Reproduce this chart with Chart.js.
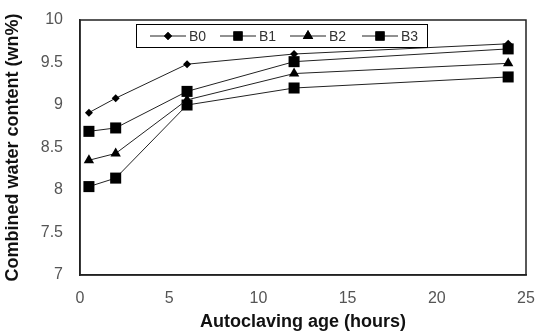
<!DOCTYPE html>
<html><head><meta charset="utf-8">
<script src="https://cdn.jsdelivr.net/npm/chart.js@4/dist/chart.umd.min.js"></script>
<style>html,body{margin:0;padding:0;background:#fff}#wrap{width:536px;height:333px}</style>
</head><body><div id="wrap"><canvas id="c" width="536" height="333"></canvas></div>
<script>
const hours = [0.5, 2, 6, 12, 24];
const B0 = [8.91, 9.08, 9.48, 9.60, 9.72];
const B1 = [8.69, 8.73, 9.16, 9.51, 9.66];
const B2 = [8.35, 8.43, 9.06, 9.37, 9.49];
const B3 = [8.04, 8.14, 9.00, 9.20, 9.33];
const seriesNames = ['B0', 'B1', 'B2', 'B3'];
const xTicks = [0, 5, 10, 15, 20, 25];
const yTicks = [7, 7.5, 8, 8.5, 9, 9.5, 10];

const styles = [
  {pointStyle: 'rectRot', r: 4},
  {pointStyle: 'rect', r: 7.8},
  {pointStyle: 'triangle', r: 6},
  {pointStyle: 'rect', r: 7.8}
];
const allData = [B0, B1, B2, B3];
const datasets = allData.map((arr, i) => ({
  label: seriesNames[i],
  data: hours.map((h, j) => ({x: h, y: arr[j]})),
  borderColor: '#222',
  borderWidth: 1,
  backgroundColor: '#000',
  pointBackgroundColor: '#000',
  pointBorderColor: '#000',
  pointBorderWidth: 0,
  pointStyle: styles[i].pointStyle,
  pointRadius: styles[i].r,
  showLine: true,
  tension: 0
}));

const legendPlugin = {
  id: 'boxLegend',
  afterDatasetsDraw(chart) {
    const ctx = chart.ctx;
    const x0 = 136, y0 = 24, w = 291, h = 23;
    ctx.save();
    ctx.fillStyle = '#fff';
    ctx.fillRect(x0, y0, w, h);
    ctx.strokeStyle = '#000';
    ctx.lineWidth = 1;
    ctx.strokeRect(x0 + 0.5, y0 + 0.5, w, h);
    ctx.font = '14px "Liberation Sans", Arial, sans-serif';
    ctx.textBaseline = 'middle';
    const cy = y0 + h / 2 + 0.5;
    const starts = [150, 220, 290, 362];
    chart.data.datasets.forEach((ds, i) => {
      const sx = starts[i];
      ctx.strokeStyle = '#222';
      ctx.beginPath();
      ctx.moveTo(sx, cy);
      ctx.lineTo(sx + 36, cy);
      ctx.stroke();
      ctx.fillStyle = '#000';
      Chart.helpers.drawPoint(ctx, {pointStyle: ds.pointStyle, radius: Math.min(ds.pointRadius, 6.5), borderWidth: 0}, sx + 18, cy);
      ctx.fill();
      ctx.fillStyle = '#333';
      ctx.fillText(ds.label, sx + 39, cy + 1);
    });
    ctx.restore();
  }
};

const framePlugin = {
  id: 'frame',
  beforeDatasetsDraw(chart) {
    const a = chart.chartArea, ctx = chart.ctx;
    ctx.save();
    ctx.strokeStyle = '#222';
    ctx.lineWidth = 1.5;
    ctx.strokeRect(a.left, a.top, a.right - a.left, a.bottom - a.top);
    ctx.restore();
  }
};

new Chart(document.getElementById('c'), {
  type: 'scatter',
  data: {datasets},
  options: {
    responsive: false,
    animation: false,
    devicePixelRatio: 1,
    layout: {padding: {top: 20, right: 10, left: 0, bottom: 0}},
    plugins: {legend: {display: false}, tooltip: {enabled: false}},
    scales: {
      x: {
        type: 'linear', min: 0, max: 25,
        afterBuildTicks(s) { s.ticks = xTicks.map(v => ({value: v})); },
        afterFit(s) { s.height = 58; s.paddingLeft = 0; s.paddingRight = 0; },
        grid: {display: false, drawTicks: true, tickLength: 5, tickColor: '#222'},
        border: {display: true, color: '#222', width: 1.5},
        ticks: {color: '#555', font: {family: '"Liberation Sans", Arial', size: 16}, padding: 9, maxRotation: 0},
        title: {display: true, text: 'Autoclaving age (hours)', color: '#111', font: {family: '"Liberation Sans", Arial', size: 18, weight: 'bold'}, padding: {top: 0, bottom: 0}}
      },
      y: {
        type: 'linear', min: 7, max: 10,
        afterBuildTicks(s) { s.ticks = yTicks.map(v => ({value: v})); },
        afterFit(s) { s.width = 80; s.paddingTop = 0; s.paddingBottom = 0; },
        grid: {display: false, drawTicks: true, tickLength: 7, tickColor: '#222'},
        border: {display: true, color: '#222', width: 1.5},
        ticks: {color: '#555', font: {family: '"Liberation Sans", Arial', size: 16}, padding: 10,
          callback: v => String(v)},
        title: {display: true, text: 'Combined water content (wn%)', color: '#111', font: {family: '"Liberation Sans", Arial', size: 18, weight: 'bold'}, padding: {top: 2, bottom: 0}}
      }
    }
  },
  plugins: [framePlugin, legendPlugin]
});
</script></body></html>
